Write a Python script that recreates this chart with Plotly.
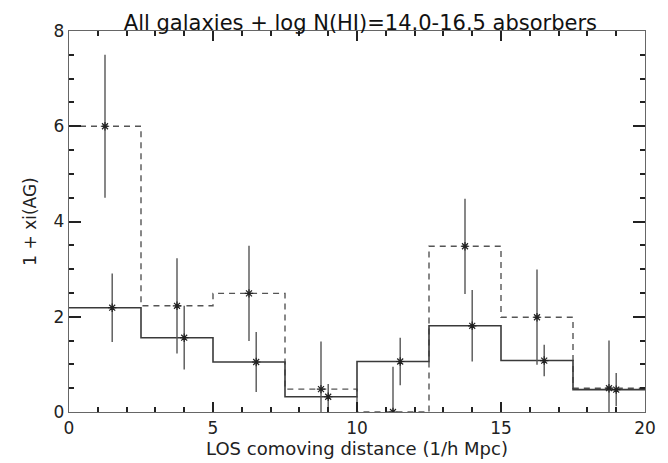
import plotly.graph_objects as go

bin_edges = [0, 2.5, 5, 7.5, 10, 12.5, 15, 17.5, 20]
dashed_vals = [6.0, 2.23, 2.49, 0.48, 0.0, 3.48, 1.99, 0.5]
solid_vals = [2.19, 1.56, 1.05, 0.32, 1.06, 1.81, 1.08, 0.47]

dashed_px = [1.25, 3.75, 6.25, 8.75, 11.25, 13.75, 16.25, 18.75]
dashed_err = [1.5, 1.0, 1.0, 1.0, 0.95, 1.0, 1.0, 1.0]
solid_px = [1.5, 4.0, 6.5, 9.0, 11.5, 14.0, 16.5, 19.0]
solid_err = [0.72, 0.67, 0.63, 0.27, 0.5, 0.75, 0.33, 0.35]

FONT = "DejaVu Sans, sans-serif"
line_col = "#3a3a3a"
err_col = "#555555"
tick_col = "#222222"

fig = go.Figure()
fig.add_trace(go.Scatter(x=bin_edges, y=dashed_vals + [dashed_vals[-1]], mode="lines",
                         line=dict(shape="hv", color="#555555", width=1.4, dash="6px,5px"),
                         showlegend=False, hoverinfo="skip"))
fig.add_trace(go.Scatter(x=bin_edges, y=solid_vals + [solid_vals[-1]], mode="lines",
                         line=dict(shape="hv", color=line_col, width=1.6),
                         showlegend=False, hoverinfo="skip"))
for px, vals, err in [(dashed_px, dashed_vals, dashed_err), (solid_px, solid_vals, solid_err)]:
    fig.add_trace(go.Scatter(x=px, y=vals, mode="markers",
                             marker=dict(symbol="asterisk-open", size=7, color="#222222",
                                         line=dict(width=1.2, color="#222222")),
                             error_y=dict(type="data", array=err, visible=True, width=0,
                                          thickness=1.4, color=err_col),
                             showlegend=False, cliponaxis=True))
# hidden trace that activates the minor-tick overlay axes
fig.add_trace(go.Scatter(x=[bin_edges[0]], y=[solid_vals[0]], xaxis="x2", yaxis="y2",
                         mode="markers", marker=dict(opacity=0), showlegend=False,
                         hoverinfo="skip"))

axis_common = dict(showgrid=False, zeroline=False, ticks="inside", tickcolor=tick_col,
                   automargin=False, mirror="allticks", tickmode="linear", tick0=0,
                   layer="above traces",
                   tickfont=dict(family=FONT, size=17, color="#222"))
minor_common = dict(showgrid=False, zeroline=False, ticks="inside", tickcolor=tick_col,
                    automargin=False, mirror="allticks", tickmode="linear", tick0=0,
                    layer="above traces",
                    showticklabels=False, showline=True, linecolor="#666666", linewidth=1.3,
                    ticklen=5, tickwidth=1.6)

fig.update_layout(
    width=660, height=455,
    margin=dict(l=61, r=23, t=23, b=51),
    plot_bgcolor="white", paper_bgcolor="white",
    title=dict(text="All galaxies + log N(HI)=14.0-16.5 absorbers", x=0.534, xanchor="center",
               y=0.985, yanchor="top",
               font=dict(family=FONT, size=21, color="#111")),
    xaxis=dict(range=[0, 20], dtick=5, ticklen=10, tickwidth=1.7, showline=True,
               linecolor="#666666", linewidth=1.3,
               title=dict(text="LOS comoving distance (1/h Mpc)", standoff=0,
                          font=dict(family=FONT, size=18, color="#222")),
               **axis_common),
    yaxis=dict(range=[0, 8], dtick=2, ticklen=12, tickwidth=1.7, showline=True,
               linecolor="#666666", linewidth=1.3,
               title=dict(text="1 + xi(AG)", standoff=12,
                          font=dict(family=FONT, size=17, color="#222")),
               **axis_common),
    xaxis2=dict(overlaying="x", anchor="y2", side="bottom", range=[0, 20], dtick=1,
                **minor_common),
    yaxis2=dict(overlaying="y", anchor="x2", side="left", range=[0, 8], dtick=0.5,
                **minor_common),
)

fig.write_html("out.html")
